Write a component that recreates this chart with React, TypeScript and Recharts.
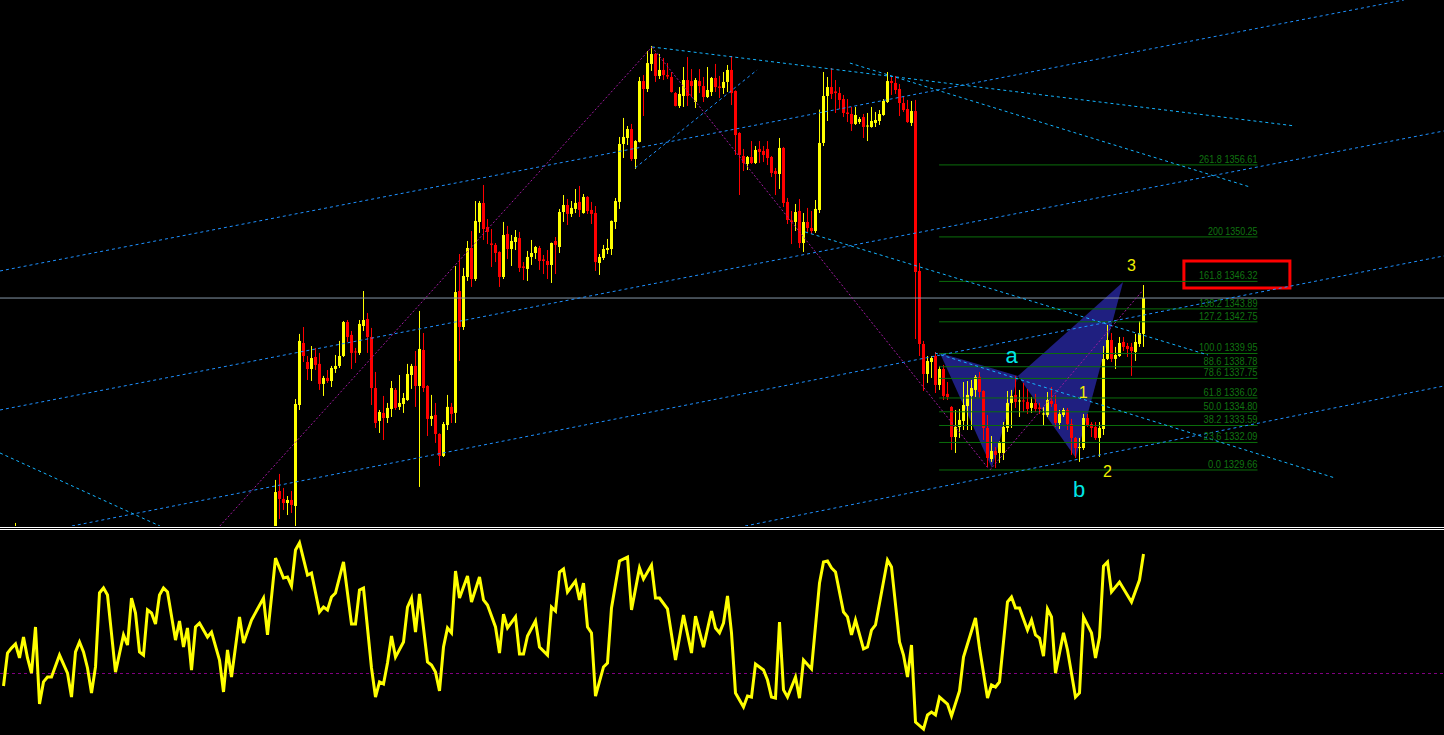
import React from "react";
import {
  ComposedChart,
  Bar,
  Area,
  Line,
  XAxis,
  YAxis,
  ReferenceLine,
  ReferenceDot,
  ReferenceArea,
} from "recharts";

// ---- price pane: bars 68..285 (earlier bars sit below the visible range) ----
const FIRST_BAR = 68;

const opens = [
  1321.71, 1327.80, 1327.10, 1326.74, 1327.01, 1326.48, 1335.40, 1340.88, 1339.20, 1338.58,
  1339.64, 1339.03, 1337.26, 1337.79, 1337.52, 1338.58, 1338.85, 1339.73, 1342.73, 1341.59,
  1340.13, 1340.00, 1342.38, 1343.00, 1341.41, 1336.90, 1333.99, 1334.70, 1334.25, 1335.05,
  1336.73, 1335.23, 1335.49, 1335.84, 1338.05, 1338.85, 1337.08, 1340.26, 1337.08, 1334.17,
  1334.52, 1332.84, 1330.90, 1333.63, 1335.23, 1334.70, 1345.47, 1342.29, 1346.71, 1349.27,
  1346.53, 1351.57, 1353.25, 1351.13, 1349.67, 1349.54, 1348.92, 1346.71, 1350.51, 1349.18,
  1349.80, 1350.15, 1347.64, 1347.42, 1348.48, 1348.83, 1349.27, 1348.26, 1348.12, 1347.77,
  1349.89, 1349.36, 1352.45, 1353.07, 1352.28, 1352.72, 1353.34, 1352.36, 1353.78, 1352.63,
  1352.36, 1347.95, 1348.39, 1349.09, 1349.18, 1351.57, 1353.34, 1358.46, 1358.99, 1359.78,
  1357.13, 1358.64, 1364.02, 1363.32, 1365.53, 1366.41, 1364.47, 1365.00, 1364.55, 1364.38,
  1362.96, 1361.82, 1362.70, 1364.11, 1364.02, 1362.17, 1364.02, 1363.58, 1362.61, 1363.05,
  1364.29, 1363.54, 1363.41, 1363.94, 1365.00, 1363.14, 1359.43, 1357.40, 1356.69, 1357.31,
  1356.78, 1358.02, 1357.84, 1358.02, 1357.31, 1356.07, 1355.81, 1358.11, 1353.34, 1351.70,
  1351.57, 1352.54, 1349.71, 1351.57, 1351.04, 1350.77, 1352.63, 1358.55, 1362.70, 1363.49,
  1363.10, 1362.96, 1362.43, 1361.24, 1361.11, 1360.23, 1360.40, 1360.84, 1360.01, 1359.96,
  1360.32, 1360.49, 1361.02, 1362.17, 1364.02, 1363.85, 1363.32, 1362.08, 1361.55, 1360.32,
  1361.37, 1347.24, 1340.79, 1338.14, 1339.20, 1339.73, 1337.17, 1338.58, 1336.38, 1335.23,
  1332.57, 1333.46, 1333.99, 1335.31, 1336.20, 1336.73, 1337.88, 1336.64, 1333.37, 1330.63,
  1331.34, 1331.16, 1331.16, 1333.37, 1335.58, 1336.29, 1335.71, 1335.80, 1335.67, 1335.14,
  1335.58, 1335.18, 1334.56, 1334.52, 1335.76, 1335.49, 1333.81, 1334.52, 1334.96, 1333.72,
  1332.49, 1331.60, 1331.60, 1334.25, 1333.72, 1333.46, 1332.49, 1333.28, 1339.47, 1341.14,
  1339.47, 1339.73, 1340.97, 1340.61, 1340.53, 1340.08, 1340.79, 1341.68,
];

const highs = [
  1328.78, 1329.31, 1328.07, 1327.36, 1327.80, 1335.93, 1341.68, 1342.29, 1339.73, 1340.61,
  1340.44, 1340.00, 1337.97, 1338.49, 1338.85, 1339.82, 1341.06, 1342.82, 1342.91, 1341.94,
  1340.44, 1342.91, 1345.47, 1343.53, 1342.21, 1338.32, 1334.96, 1336.20, 1335.58, 1337.52,
  1336.90, 1338.05, 1336.46, 1339.03, 1339.03, 1340.17, 1343.71, 1341.76, 1337.15, 1336.29,
  1335.58, 1332.90, 1333.90, 1336.29, 1335.58, 1347.68, 1348.74, 1347.51, 1349.89, 1350.77,
  1353.42, 1353.42, 1354.84, 1351.83, 1350.95, 1349.71, 1348.98, 1351.57, 1351.22, 1350.42,
  1350.86, 1350.69, 1348.03, 1349.01, 1349.98, 1349.45, 1349.45, 1348.65, 1349.09, 1349.75,
  1350.24, 1352.72, 1353.95, 1353.60, 1353.42, 1354.48, 1354.75, 1354.04, 1353.85, 1353.34,
  1352.98, 1348.74, 1349.54, 1350.07, 1351.70, 1353.69, 1359.08, 1360.76, 1360.05, 1360.23,
  1358.80, 1364.38, 1364.55, 1366.67, 1367.12, 1366.50, 1366.41, 1366.06, 1365.61, 1364.82,
  1363.05, 1363.49, 1365.26, 1366.14, 1365.08, 1364.29, 1365.08, 1364.38, 1365.26, 1364.38,
  1365.53, 1364.47, 1364.82, 1365.44, 1366.23, 1363.20, 1359.50, 1358.02, 1357.40, 1358.72,
  1358.28, 1358.72, 1358.28, 1358.72, 1357.40, 1356.34, 1358.99, 1358.20, 1353.69, 1352.54,
  1353.16, 1353.60, 1352.36, 1352.81, 1352.54, 1353.51, 1361.50, 1364.82, 1364.38, 1365.17,
  1364.11, 1363.49, 1362.79, 1362.43, 1361.73, 1361.73, 1360.84, 1361.11, 1361.20, 1361.73,
  1361.29, 1361.46, 1362.43, 1364.82, 1364.47, 1364.47, 1363.76, 1362.61, 1362.35, 1362.26,
  1362.35, 1347.95, 1341.06, 1339.73, 1339.73, 1340.08, 1338.85, 1338.94, 1337.43, 1335.30,
  1334.96, 1335.05, 1337.43, 1337.52, 1337.61, 1338.05, 1338.32, 1336.70, 1334.52, 1332.66,
  1331.69, 1332.20, 1333.90, 1336.64, 1336.73, 1337.97, 1336.73, 1337.35, 1336.82, 1336.11,
  1336.38, 1335.58, 1335.23, 1336.55, 1336.99, 1336.29, 1334.96, 1335.14, 1335.14, 1334.17,
  1332.57, 1332.49, 1334.61, 1334.61, 1333.90, 1333.90, 1333.90, 1340.61, 1342.47, 1341.76,
  1340.53, 1341.41, 1341.41, 1340.88, 1340.88, 1341.68, 1342.82, 1346.00,
];

const lows = [
  1320.83, 1325.33, 1326.13, 1325.68, 1325.86, 1324.45, 1334.96, 1339.20, 1337.61, 1337.52,
  1338.49, 1336.73, 1336.20, 1337.35, 1336.99, 1338.23, 1338.67, 1339.64, 1340.97, 1338.58,
  1339.11, 1339.82, 1341.94, 1340.00, 1335.40, 1333.37, 1332.93, 1332.31, 1333.81, 1334.34,
  1334.96, 1334.96, 1334.70, 1335.76, 1336.82, 1335.23, 1328.16, 1336.55, 1332.66, 1333.55,
  1332.05, 1330.01, 1330.81, 1333.19, 1333.81, 1333.81, 1339.29, 1342.03, 1346.36, 1345.83,
  1346.36, 1350.60, 1349.98, 1349.62, 1347.59, 1348.03, 1345.83, 1346.53, 1348.30, 1347.68,
  1349.09, 1347.15, 1346.44, 1346.36, 1347.77, 1348.30, 1347.33, 1346.97, 1346.53, 1346.18,
  1346.97, 1348.83, 1351.57, 1351.30, 1352.01, 1352.36, 1352.01, 1352.30, 1352.28, 1351.39,
  1347.24, 1346.89, 1348.21, 1348.74, 1348.65, 1350.95, 1352.72, 1357.22, 1358.37, 1356.96,
  1356.25, 1358.60, 1360.93, 1363.05, 1364.91, 1363.94, 1364.20, 1364.11, 1364.20, 1363.00,
  1361.78, 1361.64, 1361.73, 1361.82, 1362.61, 1361.64, 1362.96, 1362.17, 1362.52, 1362.70,
  1363.05, 1362.52, 1362.88, 1363.05, 1361.90, 1357.49, 1353.95, 1356.07, 1356.16, 1356.69,
  1356.69, 1356.78, 1356.87, 1356.60, 1355.54, 1353.95, 1354.48, 1352.89, 1351.39, 1349.62,
  1350.77, 1349.27, 1348.92, 1350.69, 1350.51, 1350.60, 1352.36, 1358.28, 1360.49, 1362.43,
  1361.20, 1361.55, 1360.84, 1360.40, 1359.61, 1360.14, 1360.23, 1358.99, 1358.72, 1359.90,
  1359.96, 1360.14, 1360.95, 1362.08, 1362.79, 1362.88, 1360.93, 1361.29, 1360.32, 1360.05,
  1341.23, 1339.73, 1336.64, 1337.35, 1337.79, 1336.46, 1336.73, 1335.84, 1335.84, 1331.43,
  1331.16, 1332.49, 1333.19, 1333.19, 1333.19, 1336.11, 1336.02, 1332.31, 1329.93, 1330.37,
  1329.84, 1330.28, 1330.54, 1333.02, 1333.37, 1335.14, 1334.34, 1334.78, 1334.61, 1334.70,
  1334.78, 1334.61, 1333.63, 1334.34, 1335.23, 1333.46, 1333.28, 1334.34, 1333.19, 1330.99,
  1330.72, 1330.37, 1331.43, 1333.46, 1332.57, 1332.31, 1330.81, 1332.75, 1339.38, 1339.20,
  1338.58, 1339.64, 1340.17, 1339.64, 1337.97, 1339.29, 1340.53, 1340.53,
];

const closes = [
  1327.71, 1327.10, 1326.74, 1327.01, 1326.57, 1335.49, 1341.06, 1339.73, 1338.58, 1339.55,
  1338.94, 1337.26, 1337.79, 1337.52, 1338.67, 1338.85, 1339.73, 1342.73, 1341.41, 1340.00,
  1340.04, 1342.56, 1342.91, 1341.41, 1336.90, 1333.81, 1334.78, 1334.25, 1335.14, 1336.90,
  1335.14, 1335.58, 1336.02, 1338.14, 1338.85, 1337.08, 1340.35, 1336.90, 1334.17, 1334.43,
  1332.84, 1330.90, 1333.72, 1335.23, 1334.61, 1345.38, 1342.29, 1346.80, 1349.27, 1346.53,
  1351.66, 1353.25, 1350.95, 1350.69, 1349.54, 1348.83, 1346.71, 1350.42, 1349.18, 1349.89,
  1350.24, 1347.51, 1347.51, 1348.48, 1348.83, 1349.36, 1348.12, 1348.12, 1347.77, 1349.71,
  1349.54, 1352.45, 1353.07, 1352.28, 1352.81, 1353.25, 1352.63, 1353.78, 1352.54, 1352.28,
  1348.03, 1348.48, 1349.18, 1349.27, 1351.66, 1353.42, 1358.46, 1359.08, 1359.78, 1357.13,
  1358.72, 1364.02, 1363.32, 1365.61, 1366.41, 1364.47, 1365.00, 1364.55, 1364.42, 1363.05,
  1361.82, 1362.88, 1364.11, 1362.70, 1363.58, 1364.11, 1363.58, 1362.61, 1363.23, 1364.29,
  1363.49, 1363.41, 1363.94, 1365.00, 1362.96, 1359.25, 1357.49, 1356.78, 1357.31, 1356.78,
  1357.93, 1357.75, 1357.49, 1357.22, 1355.90, 1355.81, 1358.11, 1353.25, 1351.75, 1351.57,
  1352.45, 1349.71, 1351.57, 1351.04, 1350.77, 1352.72, 1358.55, 1362.70, 1363.49, 1362.88,
  1362.96, 1362.35, 1361.20, 1361.11, 1360.23, 1361.02, 1360.67, 1359.96, 1360.09, 1360.49,
  1360.58, 1361.11, 1362.26, 1364.02, 1363.85, 1363.23, 1362.08, 1361.46, 1360.40, 1361.37,
  1347.15, 1340.79, 1338.14, 1339.29, 1339.55, 1337.17, 1338.58, 1336.20, 1336.11, 1332.57,
  1333.46, 1334.08, 1335.40, 1336.29, 1336.90, 1337.88, 1336.55, 1333.37, 1330.72, 1331.34,
  1330.99, 1332.13, 1333.46, 1335.58, 1336.20, 1335.67, 1335.80, 1335.71, 1335.05, 1335.58,
  1335.05, 1335.05, 1334.65, 1335.84, 1335.49, 1333.81, 1334.61, 1334.96, 1333.72, 1332.49,
  1331.60, 1331.69, 1334.25, 1333.63, 1333.37, 1332.49, 1333.37, 1339.47, 1341.14, 1339.47,
  1339.82, 1340.88, 1340.53, 1340.35, 1340.17, 1340.97, 1341.76, 1344.85,
];

// a lone early bar whose wick just pokes into the pane
const earlyBar = { idx: 3, open: 1324.3, high: 1324.98, low: 1323.9, close: 1324.6 };

const bidPrice = 1344.85;

// fibonacci retracement of the last swing
const fibRatio = ["261.8", "200", "161.8", "138.2", "127.2", "100.0", "88.6", "78.6", "61.8", "50.0", "38.2", "23.6", "0.0"];
const fibPrice = [1356.61, 1350.25, 1346.32, 1343.89, 1342.75, 1339.95, 1338.78, 1337.75, 1336.02, 1334.80, 1333.59, 1332.09, 1329.66];
const FIB_FROM = 233.9;
const FIB_TO = 313.5;

// trend lines: [fromBar, fromPrice, toBar, toPrice]
const channelLines = [
  [-0.87, 1347.24, 350.1, 1371.18],
  [-0.87, 1334.96, 360.1, 1359.61],
  [17.1, 1324.71, 360.1, 1348.57],
  [185.4, 1324.71, 360.1, 1337.08],
  [157.9, 1356.34, 188.4, 1365.0],
];
const fallingLines = [
  [162.1, 1367.03, 322.9, 1360.05],
  [211.6, 1365.61, 311.6, 1354.66],
  [-0.87, 1331.16, 39.1, 1324.71],
  [200.4, 1350.69, 301.1, 1339.82],
  [232.9, 1339.99, 332.9, 1328.95],
];
const zigzagLines = [
  [54.1, 1324.71, 162.1, 1367.03],
  [162.1, 1367.03, 246.1, 1329.84],
  [246.6, 1329.66, 284.9, 1345.56],
];

// harmonic pattern pivots X, A, B, C, D
const pivotIdx = [234.1, 253.6, 247.1, 268.1, 279.9];
const pivotPrice = [1339.99, 1337.96, 1329.84, 1330.72, 1346.27];

// wave labels (baseline centre)
const waveText = ["a", "b", "1", "2", "3"];
const waveIdx = [252.0, 268.9, 269.9, 276.0, 282.0];
const wavePrice = [1339.11, 1327.27, 1336.02, 1329.04, 1347.24];

// target box
const boxBars = [295.1, 321.6];
const boxPrices = [1345.74, 1348.12];

// ---- oscillator pane ----
const oscIdx = [
  0, 1, 2, 3, 4, 5, 6, 7, 8, 9, 10, 11, 12,
  14, 16, 17, 18, 19, 20, 21, 22, 23, 24, 25, 26,
  28, 30, 31, 32, 33, 34, 35, 36, 37, 38, 39, 40, 41,
  43, 44, 45, 46, 47, 48, 49, 51, 52, 54, 55, 56, 57,
  59, 60, 62, 65, 66, 67, 68, 70, 71, 72, 73, 74,
  76, 77, 79, 80, 81, 82, 83, 85, 87, 88, 89, 90,
  92, 93, 94, 95, 96, 97, 98, 100, 101, 102, 103, 104,
  106, 107, 108, 109, 110, 111, 112, 113, 114, 116, 117,
  119, 120, 121, 123, 124, 125, 126, 128, 129, 130, 131,
  133, 134, 136, 137, 138, 139, 140, 141, 143, 144, 145, 146, 147, 148,
  150, 151, 152, 154, 156, 157, 159, 160, 162, 163, 164, 166, 168,
  170, 172, 173, 175, 177, 178, 179, 180, 181, 182, 183,
  185, 186, 187, 188, 190, 191, 192, 193, 194, 195, 196,
  198, 199, 200, 202, 204, 205, 206, 207, 208,
  210, 211, 212, 213, 215, 216, 217, 218, 221, 222,
  224, 225, 226, 227, 228, 230, 231, 232, 233, 234,
  236, 237, 239, 240, 243, 244, 246, 247, 248, 249,
  251, 252, 253, 254, 256, 257, 258, 259, 260, 261, 262, 263,
  265, 266, 268, 269, 270, 272, 273, 274, 275, 276, 277,
  279, 282, 284, 285,
];
const oscVal = [
  23.9, 40.0, 42.4, 44.4, 37.6, 47.8, 37.6, 30.2, 52.7, 15.1, 25.9, 28.3, 28.3,
  39.0, 30.2, 18.5, 40.5, 45.4, 40.5, 32.7, 20.5, 33.2, 69.3, 71.7, 68.3,
  30.7, 48.8, 43.9, 66.8, 59.5, 40.5, 39.0, 61.0, 59.5, 54.1, 68.3, 71.7, 69.8,
  46.3, 55.6, 42.9, 52.2, 31.7, 52.7, 54.6, 47.8, 50.2, 36.6, 21.0, 41.5, 28.3,
  57.6, 44.9, 56.1, 66.8, 48.8, 67.3, 86.3, 76.6, 77.1, 72.7, 90.2, 93.7,
  78.0, 79.0, 60.0, 62.4, 61.0, 67.3, 69.3, 84.4, 54.1, 54.1, 70.7, 71.7,
  32.7, 18.5, 25.9, 24.9, 35.1, 48.3, 38.0, 45.4, 62.4, 66.8, 50.2, 68.8,
  35.6, 34.1, 30.7, 21.5, 42.9, 52.2, 49.8, 80.0, 66.8, 77.6, 64.9,
  77.1, 65.9, 63.4, 52.7, 40.0, 59.0, 52.2, 57.6, 39.5, 39.5, 48.3,
  55.6, 42.9, 39.0, 62.4, 60.5, 79.5, 81.0, 69.8, 75.1, 65.9, 74.1, 52.7, 49.8, 19.0,
  33.2, 35.1, 62.0, 84.9, 86.8, 61.0, 81.5, 76.1, 82.9, 66.8, 66.8, 61.5, 36.6,
  58.5, 40.0, 58.0, 42.9, 60.5, 52.2, 49.8, 54.6, 67.8, 49.8, 20.5,
  13.7, 19.0, 18.5, 34.6, 31.7, 26.8, 18.5, 18.0, 55.1, 22.0, 18.5,
  28.3, 18.0, 36.6, 32.2, 74.1, 84.4, 84.9, 81.5, 79.5,
  60.0, 57.6, 48.8, 56.1, 42.0, 42.9, 51.2, 53.7, 85.4, 82.0,
  45.4, 39.0, 28.3, 43.9, 6.3, 2.9, 9.8, 11.2, 9.8, 18.5,
  15.1, 9.3, 21.5, 38.0, 57.1, 42.4, 18.0, 24.4, 23.4, 25.9,
  64.9, 67.3, 62.0, 62.0, 51.2, 56.1, 48.8, 47.3, 38.5, 61.5, 57.6, 30.2,
  49.8, 41.5, 18.5, 20.5, 57.6, 49.8, 37.6, 47.8, 82.4, 84.4, 69.8,
  74.6, 64.9, 75.6, 88.3,
];
const OSC_LEVEL = 30;

// ---- layout ----
const W = 1444;
const PRICE_H = 526;
const OSC_TOP = 530;
const OSC_H = 205;
const X_DOMAIN = [-0.875, 360.125];
const PRICE_DOMAIN = [1324.71, 1371.18];

const BULL = "#ffff00";
const BEAR = "#ff0000";
const CHANNEL = "#1e90ff";
const FALLING = "#14b4ff";
const ZIGZAG = "#a01aa0";
const FIB = "#0b6e0b";
const FIB_TEXT = "#107410";
const WING = "#1f1f80";
const FONT = "'Liberation Sans', Arial, sans-serif";

const candles = [
  earlyBar,
  ...opens.map((o, k) => ({ idx: FIRST_BAR + k, open: o, high: highs[k], low: lows[k], close: closes[k] })),
];

const oscRows = oscIdx.map((idx, k) => ({ idx, val: oscVal[k] }));

function triangle(a: number, mid: number, b: number) {
  const t = (pivotIdx[mid] - pivotIdx[a]) / (pivotIdx[b] - pivotIdx[a]);
  const edge = pivotPrice[a] + t * (pivotPrice[b] - pivotPrice[a]);
  return [
    { idx: pivotIdx[a], band: [pivotPrice[a], pivotPrice[a]] },
    { idx: pivotIdx[mid], band: [pivotPrice[mid], edge] },
    { idx: pivotIdx[b], band: [pivotPrice[b], pivotPrice[b]] },
  ];
}
const wingXAB = triangle(0, 2, 1);
const wingACD = triangle(1, 3, 4);

function Candle(props: any) {
  const { x, y, width, height, payload } = props;
  if (x == null || !payload) return null;
  const { open, close, high, low } = payload;
  const cx = Math.floor(x + width / 2) + 0.5;
  const span = high - low || 1;
  const at = (v: number) => y + ((high - v) / span) * height;
  const color = close >= open ? BULL : BEAR;
  const top = at(Math.max(open, close));
  const bottom = at(Math.min(open, close));
  return (
    <g>
      <line x1={cx} x2={cx} y1={y} y2={y + height} stroke={color} strokeWidth={1} />
      <rect x={cx - 1.5} y={top} width={3} height={Math.max(bottom - top, 1)} fill={color} />
    </g>
  );
}

function segment(l: number[], color: string, dash: string, key: string) {
  return (
    <ReferenceLine
      key={key}
      segment={[{ x: l[0], y: l[1] }, { x: l[2], y: l[3] }]}
      stroke={color}
      strokeWidth={1}
      strokeDasharray={dash}
      ifOverflow="visible"
    />
  );
}

export default function App() {
  return (
    <div style={{ position: "absolute", left: 0, top: 0, width: W, height: 735, background: "#000", overflow: "hidden" }}>
      <div style={{ position: "absolute", left: 0, top: 0 }}>
        <ComposedChart width={W} height={PRICE_H} data={candles} margin={{ top: 0, right: 0, bottom: 0, left: 0 }}>
          <XAxis type="number" dataKey="idx" domain={X_DOMAIN} allowDataOverflow hide />
          <YAxis type="number" domain={PRICE_DOMAIN} allowDataOverflow hide />

          <Area data={wingXAB} dataKey="band" type="linear" stroke="none" fill={WING} fillOpacity={1} dot={false} activeDot={false} isAnimationActive={false} />
          <Area data={wingACD} dataKey="band" type="linear" stroke="none" fill={WING} fillOpacity={1} dot={false} activeDot={false} isAnimationActive={false} />

          {fibPrice.map((p, k) => (
            <ReferenceLine
              key={`fib${k}`}
              segment={[{ x: FIB_FROM, y: p }, { x: FIB_TO, y: p }]}
              stroke={FIB}
              strokeWidth={1}
              ifOverflow="visible"
            />
          ))}

          <ReferenceLine y={bidPrice} stroke="#8696a8" strokeWidth={1} ifOverflow="visible" />

          {channelLines.map((l, k) => segment(l, CHANNEL, "3 3", `ch${k}`))}
          {fallingLines.map((l, k) => segment(l, FALLING, "3 3", `fl${k}`))}
          {zigzagLines.map((l, k) => segment(l, ZIGZAG, "2 2", `zz${k}`))}

          <Bar dataKey={(d: any) => [d.low, d.high]} barSize={3} shape={Candle} isAnimationActive={false} />

          {fibPrice.map((p, k) => {
            const text = `${fibRatio[k]} ${p.toFixed(2)}`;
            return (
              <ReferenceDot
                key={`fl${k}`}
                x={FIB_TO}
                y={p}
                r={2}
                ifOverflow="visible"
                shape={(s: any) => (
                  <text
                    x={s.cx}
                    y={s.cy - 2}
                    textAnchor="end"
                    fill={FIB_TEXT}
                    fontSize={11}
                    fontFamily={FONT}
                    textLength={text.length * 4.5}
                    lengthAdjust="spacingAndGlyphs"
                  >
                    {text}
                  </text>
                )}
              />
            );
          })}

          {waveText.map((t, k) => {
            const letter = /[a-z]/.test(t);
            return (
              <ReferenceDot
                key={`w${k}`}
                x={waveIdx[k]}
                y={wavePrice[k]}
                r={2}
                ifOverflow="visible"
                shape={(s: any) => (
                  <text
                    x={s.cx}
                    y={s.cy}
                    textAnchor="middle"
                    fill={letter ? "#00e6e6" : "#f0f000"}
                    fontSize={letter ? 22 : 16}
                    fontFamily={FONT}
                  >
                    {t}
                  </text>
                )}
              />
            );
          })}

          <ReferenceArea
            x1={boxBars[0]}
            x2={boxBars[1]}
            y1={boxPrices[0]}
            y2={boxPrices[1]}
            stroke="#ff0000"
            strokeWidth={3}
            fill="none"
            fillOpacity={0}
            ifOverflow="visible"
          />
        </ComposedChart>
      </div>

      <div style={{ position: "absolute", left: 0, top: 527, width: W, height: 1, background: "#fff" }} />
      <div style={{ position: "absolute", left: 0, top: 529, width: W, height: 1, background: "#fff" }} />

      <div style={{ position: "absolute", left: 0, top: OSC_TOP }}>
        <ComposedChart width={W} height={OSC_H} data={oscRows} margin={{ top: 0, right: 0, bottom: 0, left: 0 }}>
          <XAxis type="number" dataKey="idx" domain={X_DOMAIN} allowDataOverflow hide />
          <YAxis type="number" domain={[0, 100]} allowDataOverflow hide />
          <ReferenceLine y={OSC_LEVEL} stroke="#800080" strokeDasharray="3 3" strokeWidth={1} />
          <Line dataKey="val" type="linear" stroke="#ffff00" strokeWidth={3} dot={false} activeDot={false} isAnimationActive={false} />
        </ComposedChart>
      </div>
    </div>
  );
}
